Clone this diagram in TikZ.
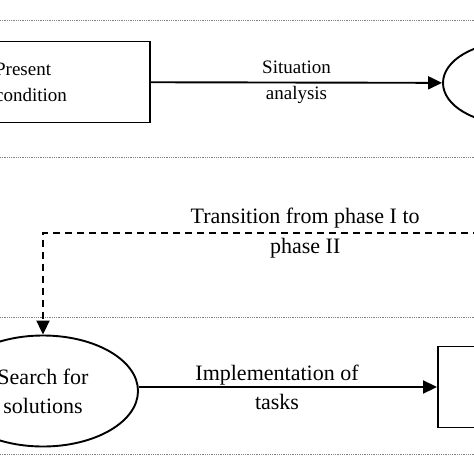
\documentclass[tikz,border=0pt]{standalone}
\usepackage{fontspec}
\setmainfont{Liberation Serif}
\usetikzlibrary{arrows.meta,shapes.geometric}

\begin{document}
\begin{tikzpicture}[x=1pt, y=-1pt,
	box/.style={draw, line width=1.9pt, rectangle, minimum width=234pt, minimum height=81pt},
	oval/.style={draw, line width=1.9pt, ellipse, inner sep=0pt},
	flow/.style={line width=1.9pt, -{Triangle[length=14pt,width=13pt]}},
	lane/.style={gray, line width=0.8pt, densely dotted},
	small/.style={font=\fontsize{19}{26}\selectfont, align=center},
	big/.style={font=\fontsize{22}{29}\selectfont, align=center}]
	
	\useasboundingbox (0,0) rectangle (474,474);
	\clip (0,0) rectangle (474,474);
	
	% phase lanes
	\draw [lane] (0,20) -- (474,20);
	\draw [lane] (0,157) -- (474,157);
	\draw [lane] (0,317) -- (474,317);
	\draw [lane] (0,454) -- (474,454);
	
	% phase I
	\node [box, small, align=left, minimum width=238pt] (present) at (31,82) {Present\\condition};
	\node [oval, minimum width=140pt, minimum height=82pt] (goal) at (513,83) {};
	\draw [flow] (present) -- (goal) node [midway, small] {Situation\\analysis};
	
	% phase II
	\node [oval, big, minimum width=190pt, minimum height=111pt] (search) at (43,391) {Search for\\solutions};
	\node [box] (tasks) at (555,387) {};
	\draw [flow] (search.east |- tasks.west) -- (tasks.west) node [midway, big, xshift=-11pt] {Implementation of\\tasks};
	
	\coordinate (link) at (480,233);
	\draw [flow, dash pattern=on 7pt off 5pt] (link) -| (search.north) node [pos=0.2, big, font=\fontsize{22}{30}\selectfont] {Transition from phase I to\\phase II};
	
\end{tikzpicture}
\end{document}
